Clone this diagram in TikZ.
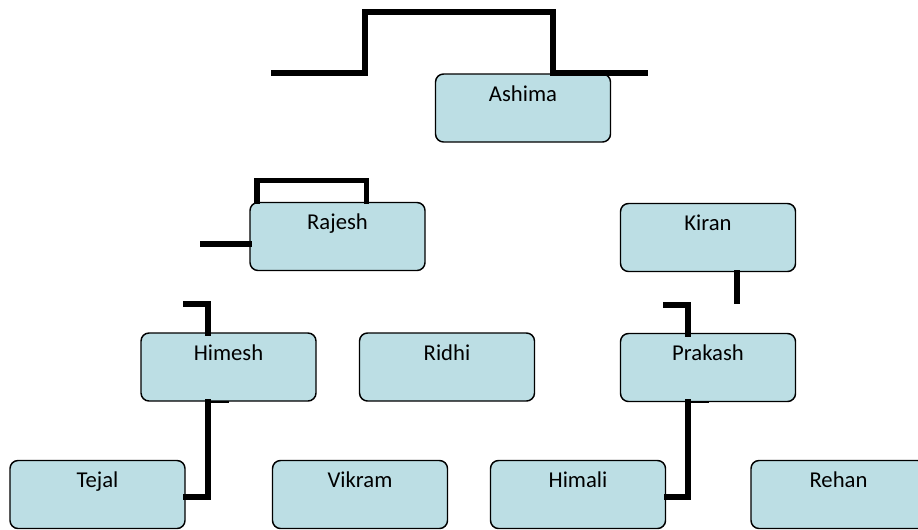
\documentclass[tikz,border=0pt]{standalone}
\usepackage{fontspec}
\setmainfont{Carlito}
\definecolor{boxfill}{RGB}{188,222,228}
\begin{document}
\begin{tikzpicture}[x=0.75pt,y=-0.75pt,
  person/.style={draw=black,line width=1.1pt,fill=boxfill,rounded corners=6pt,
    minimum width=131.25pt,minimum height=51pt,inner sep=0pt},
  lbl/.style={font=\fontsize{17}{20}\selectfont},
  link/.style={line width=3.8pt,line cap=rect,line join=miter},
  stub/.style={line width=2.2pt,line cap=butt}]
\useasboundingbox (0,0) rectangle (918,529);
% boxes
\node[person] (ashima) at (523,108) {};
\node[person] (rajesh) at (337.5,236.5) {};
\node[person] (kiran) at (708,237.5) {};
\node[person] (himesh) at (228.5,367) {};
\node[person] (ridhi) at (447,367) {};
\node[person] (prakash) at (708,367.5) {};
\node[person] (tejal) at (97.5,494.5) {};
\node[person] (vikram) at (360,494.5) {};
\node[person] (himali) at (578,494.5) {};
\node[person] (rehan) at (838.5,494.5) {};
% labels
\foreach \n/\t in {ashima/Ashima,rajesh/Rajesh,kiran/Kiran,himesh/Himesh,ridhi/Ridhi,
  prakash/Prakash,tejal/Tejal,vikram/Vikram,himali/Himali,rehan/Rehan}
  \node[lbl,anchor=base] (\n-t) at ([yshift=-21pt]\n.north) {\t};
% connectors
\coordinate (topL) at (274,73);
\coordinate (topR) at (645,73);
\draw[link] (topL) -- (365,73) -- (365,12) -- (553,12) -- (553,73) -- (topR);
\draw[link] ([xshift=-60.4pt]rajesh.north) -- ++(0,-21) -| ([xshift=22pt]rajesh.north);
\coordinate (rajL) at (203,244);
\draw[link] (rajL) -- (rajL -| rajesh.west);
\coordinate (kiranEnd) at (737,301);
\draw[link] (kiranEnd |- kiran.south) -- (kiranEnd);
\coordinate (prakL) at (666,305);
\draw[link] (prakL) -- (688,305) -- (688,334);
\coordinate (himL) at (186,304);
\draw[link] (himL) -- (208,304) -- (208,333);
\draw[stub] (229,402) -- (208,402);
\draw[link] (208,402) -- (208,497) -- (tejal.east |- 0,497);
\draw[stub] (709,402) -- (688,402);
\draw[link] (688,402) -- (688,497) -- (himali.east |- 0,497);
\end{tikzpicture}
\end{document}
